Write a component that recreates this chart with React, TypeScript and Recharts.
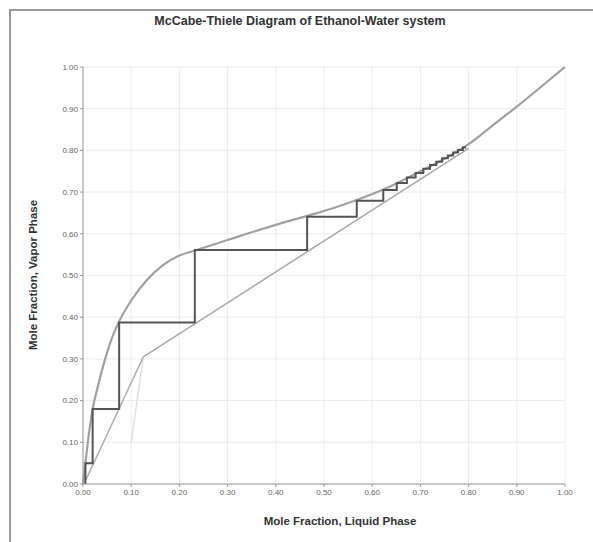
import React from "react";
import { LineChart, Line, XAxis, YAxis, CartesianGrid } from "recharts";

// equilibrium curve (x, y)
const eqX = [0, 0.005, 0.01, 0.02, 0.03, 0.046, 0.06, 0.075, 0.1, 0.133, 0.166, 0.2, 0.232, 0.3, 0.34, 0.41, 0.465, 0.52, 0.568, 0.623, 0.7, 0.75, 0.8, 0.85, 0.9, 0.95, 1];
const eqY = [0, 0.05, 0.1, 0.18, 0.23, 0.3, 0.35, 0.39, 0.44, 0.49, 0.525, 0.548, 0.56, 0.585, 0.6, 0.625, 0.643, 0.662, 0.681, 0.706, 0.75, 0.78, 0.815, 0.86, 0.905, 0.952, 1];

// operating lines
const rectX = [0.125, 0.8];
const rectY = [0.305, 0.805];
const stripX = [0.006, 0.125];
const stripY = [0.01, 0.305];
const qX = [0.1, 0.125];
const qY = [0.1, 0.305];

// stage staircase
const stepX = [0.005, 0.005, 0.02, 0.02, 0.075, 0.075, 0.232, 0.232, 0.465, 0.465, 0.568, 0.568, 0.623, 0.623, 0.651, 0.651, 0.672, 0.672, 0.69, 0.69, 0.706, 0.706, 0.72, 0.72, 0.733, 0.733, 0.745, 0.745, 0.757, 0.757, 0.768, 0.768, 0.778, 0.778, 0.788, 0.788, 0.795];
const stepY = [0, 0.05, 0.05, 0.18, 0.18, 0.387, 0.387, 0.561, 0.561, 0.641, 0.641, 0.679, 0.679, 0.705, 0.705, 0.722, 0.722, 0.735, 0.735, 0.746, 0.746, 0.756, 0.756, 0.765, 0.765, 0.773, 0.773, 0.781, 0.781, 0.788, 0.788, 0.795, 0.795, 0.801, 0.801, 0.807, 0.807];

const ticks = [0, 0.1, 0.2, 0.3, 0.4, 0.5, 0.6, 0.7, 0.8, 0.9, 1];

const pts = (xs: number[], ys: number[]) => xs.map((x, i) => ({ x, y: ys[i] }));

const FONT = "'Liberation Sans', Arial, sans-serif";
const tickStyle = { fill: "#666", fontSize: 8, fontFamily: FONT };

export default function App() {
  return (
    <div
      style={{
        position: "absolute",
        left: 0,
        top: 0,
        width: 593,
        height: 542,
        background: "#fff",
        fontFamily: FONT,
      }}
    >
      <div
        style={{
          position: "absolute",
          left: 9,
          top: 9,
          width: 600,
          height: 560,
          borderLeft: "2px solid #9a9a9a",
          borderTop: "2px solid #9a9a9a",
        }}
      />
      <div
        style={{
          position: "absolute",
          left: 0,
          width: 600,
          top: 14,
          textAlign: "center",
          fontSize: 12.5,
          fontWeight: "bold",
          color: "#333",
        }}
      >
        McCabe-Thiele Diagram of Ethanol-Water system
      </div>
      <div
        style={{
          position: "absolute",
          left: 340 - 150,
          width: 300,
          top: 515,
          textAlign: "center",
          fontSize: 11.5,
          fontWeight: "bold",
          color: "#333",
        }}
      >
        Mole Fraction, Liquid Phase
      </div>
      <div
        style={{
          position: "absolute",
          left: 33 - 150,
          width: 300,
          top: 277 - 8,
          textAlign: "center",
          fontSize: 11.5,
          fontWeight: "bold",
          color: "#333",
          transform: "rotate(-90deg)",
        }}
      >
        Mole Fraction, Vapor Phase
      </div>
      <LineChart
        width={593}
        height={542}
        margin={{ top: 67, right: 28, bottom: 28, left: 38 }}
        style={{ position: "absolute", left: 0, top: 0 }}
      >
        <CartesianGrid stroke="#ececec" ticks={ticks} />
        <XAxis
          dataKey="x"
          type="number"
          domain={[0, 1]}
          ticks={ticks}
          tickFormatter={(v: number) => v.toFixed(2)}
          tick={tickStyle}
          stroke="#999"
          tickSize={3}
          height={30}
          allowDuplicatedCategory={false}
        />
        <YAxis
          dataKey="y"
          type="number"
          domain={[0, 1]}
          ticks={ticks}
          tickFormatter={(v: number) => v.toFixed(2)}
          tick={tickStyle}
          stroke="#999"
          tickSize={3}
          width={45}
        />
        <Line data={pts(qX, qY)} dataKey="y" stroke="#e0e0e0" strokeWidth={1.5} dot={false} isAnimationActive={false} />
        <Line data={pts(eqX, eqY)} dataKey="y" type="monotone" stroke="#a0a0a0" strokeWidth={2.2} dot={false} isAnimationActive={false} />
        <Line data={pts(stripX, stripY)} dataKey="y" stroke="#b0b0b0" strokeWidth={1.5} dot={false} isAnimationActive={false} />
        <Line data={pts(rectX, rectY)} dataKey="y" stroke="#a8a8a8" strokeWidth={1.5} dot={false} isAnimationActive={false} />
        <Line data={pts(stepX, stepY)} dataKey="y" stroke="#555" strokeWidth={2} dot={false} isAnimationActive={false} />
      </LineChart>
    </div>
  );
}
